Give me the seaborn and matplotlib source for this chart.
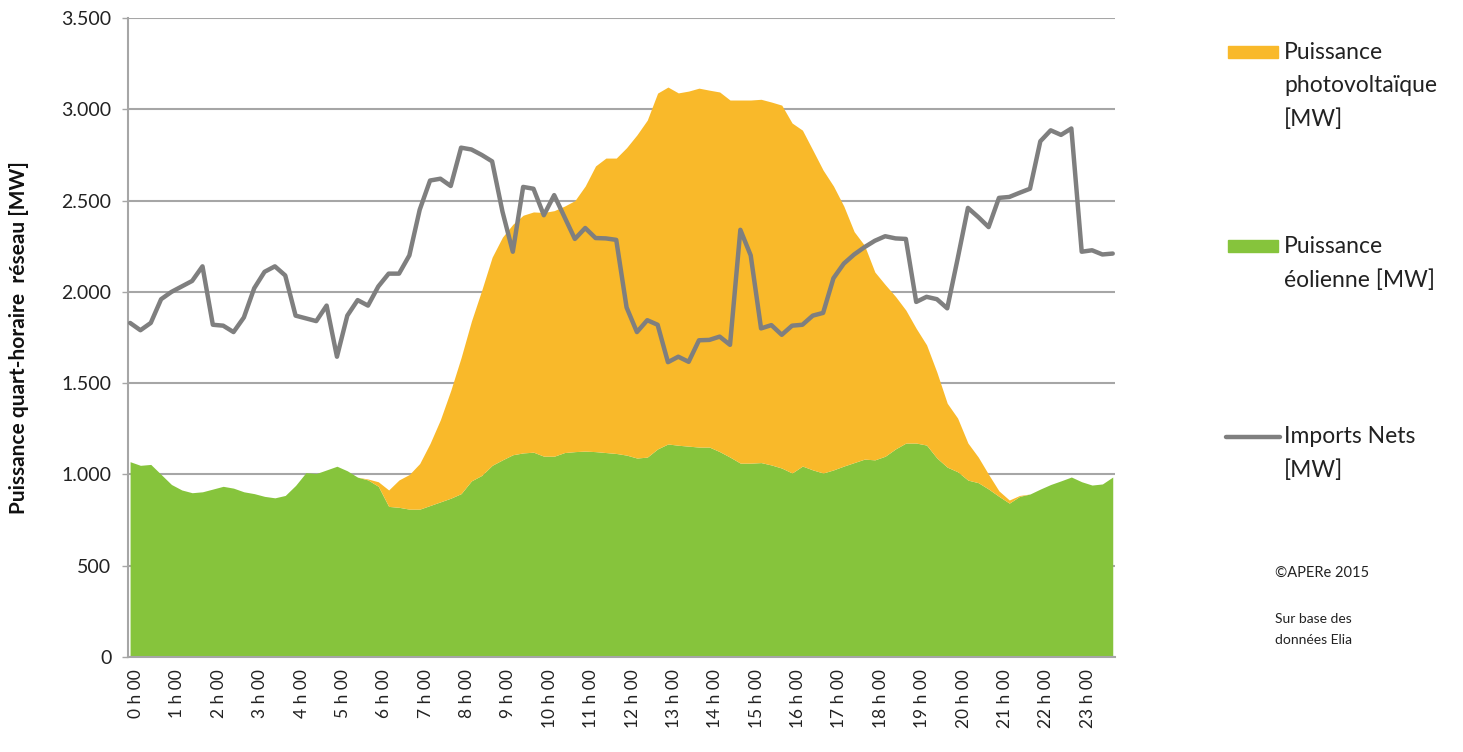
import matplotlib
matplotlib.use("Agg")
import matplotlib.pyplot as plt
import matplotlib.transforms as mtransforms
from matplotlib.patches import Rectangle
from matplotlib.lines import Line2D
from matplotlib.ticker import FuncFormatter, MultipleLocator
import numpy as np
import pandas as pd
import seaborn as sns

# quarts d'heure 0 h 00 -> 23 h 45
quart = list(range(96))
heures = [f"{h} h 00" for h in range(24)]

eolien = [
    1070, 1050, 1055, 1000, 945, 915, 900, 905, 920, 935, 925, 905,
    895, 880, 872, 885, 940, 1010, 1005, 1025, 1045, 1020, 985, 970,
    935, 825, 820, 810, 810, 830, 850, 870, 895, 965, 995, 1050,
    1080, 1108, 1118, 1122, 1100, 1100, 1120, 1125, 1128, 1125, 1120, 1115,
    1106, 1090, 1095, 1140, 1167, 1160, 1155, 1150, 1150, 1125, 1095, 1062,
    1062, 1065, 1052, 1035, 1008, 1046, 1025, 1008, 1025, 1046, 1065, 1084,
    1080, 1100, 1140, 1172, 1172, 1161, 1090, 1040, 1015, 969, 955, 920,
    880, 843, 880, 893, 920, 945, 965, 986, 960, 942, 948, 986,
]

photovoltaique = [
    0, 0, 0, 0, 0, 0, 0, 0, 0, 0, 0, 0,
    0, 0, 0, 0, 0, 0, 0, 0, 0, 0, 0, 5,
    25, 90, 150, 190, 250, 340, 450, 590, 745, 875, 1015, 1140,
    1220, 1262, 1302, 1316, 1335, 1345, 1350, 1375, 1452, 1565, 1613, 1618,
    1684, 1770, 1846, 1949, 1955, 1930, 1945, 1966, 1955, 1970, 1956, 1989,
    1989, 1990, 1988, 1988, 1917, 1840, 1752, 1659, 1555, 1424, 1265, 1171,
    1029, 940, 835, 728, 628, 549, 470, 350, 294, 203, 140, 80,
    30, 17, 5, 0, 0, 0, 0, 0, 0, 0, 0, 0,
]

imports_nets = [
    1830, 1790, 1830, 1960, 2000, 2030, 2060, 2140, 1820, 1815, 1780, 1860,
    2020, 2110, 2140, 2090, 1870, 1855, 1840, 1925, 1645, 1870, 1955, 1925,
    2030, 2100, 2100, 2200, 2450, 2610, 2620, 2580, 2790, 2780, 2750, 2715,
    2440, 2220, 2575, 2565, 2420, 2530, 2410, 2290, 2350, 2295, 2293, 2285,
    1915, 1780, 1845, 1820, 1615, 1645, 1617, 1735, 1737, 1755, 1710, 2340,
    2200, 1800, 1818, 1765, 1815, 1820, 1870, 1885, 2075, 2155, 2205, 2245,
    2280, 2305, 2293, 2290, 1945, 1973, 1960, 1910, 2180, 2460, 2410, 2355,
    2515, 2520, 2543, 2565, 2825, 2885, 2860, 2895, 2220, 2228, 2205, 2210,
]

ORANGE = "#F9B92A"
VERT = "#86C43C"
GRIS = "#7F7F7F"

df = pd.DataFrame({"quart": quart, "imports": imports_nets})

sns.set_theme(style="white")
plt.rcParams["font.family"] = ["Lato", "DejaVu Sans"]

fig = plt.figure(figsize=(14.63, 7.52), dpi=100)
ax = fig.add_axes([0.0875, 0.1263, 0.6745, 0.8497])

ax.stackplot(quart, eolien, photovoltaique, colors=[VERT, ORANGE], linewidth=0, zorder=2)
sns.lineplot(data=df, x="quart", y="imports", color=GRIS, linewidth=3.2, ax=ax, zorder=3)

ax.set_xlim(-0.2, 95.2)
ax.set_ylim(0, 3500)
ax.yaxis.set_major_locator(MultipleLocator(500))
ax.yaxis.set_major_formatter(FuncFormatter(lambda v, p: f"{int(v):,}".replace(",", ".")))
ax.grid(axis="y", color="#A6A6A6", linewidth=1.5, zorder=0)
ax.set_axisbelow(True)

ax.set_xticks(quart[::4])
ax.set_xticklabels(heures, rotation=90)
ax.set_xticks(quart, minor=True)
ax.tick_params(axis="x", which="major", length=0, pad=9, labelsize=12.5, colors="#222222")
ax.tick_params(axis="x", which="minor", direction="in", length=5, width=1, color="#8C8C8C")
ax.tick_params(axis="y", which="major", length=4, width=1, color="#A6A6A6", pad=8,
               labelsize=14, labelcolor="#222222", left=True)
offset = mtransforms.ScaledTranslation(6 / 100, 0, fig.dpi_scale_trans)
for lab in ax.get_xticklabels():
    lab.set_transform(lab.get_transform() + offset)

for s in ["top", "right"]:
    ax.spines[s].set_visible(False)
for s in ["left", "bottom"]:
    ax.spines[s].set_color("#A6A6A6")
    ax.spines[s].set_linewidth(1.5)

ax.set_xlabel("")
ax.set_ylabel("Puissance quart-horaire  réseau [MW]", fontsize=15, fontweight="bold",
              color="#111111")
ax.yaxis.set_label_coords(-0.1, 0.5)

# légende à droite
W, H = 1463, 752


def fx(px):
    return px / W


def fy(py):
    return 1 - py / H


fig.add_artist(Rectangle((fx(1228), fy(58)), fx(50), 12 / H, color=ORANGE, transform=fig.transFigure))
fig.text(fx(1284), fy(42), "Puissance\nphotovoltaïque\n[MW]", fontsize=16.5, va="top", ha="left",
         color="#222222", linespacing=1.7)
fig.add_artist(Rectangle((fx(1228), fy(252)), fx(50), 12 / H, color=VERT, transform=fig.transFigure))
fig.text(fx(1284), fy(236), "Puissance\néolienne [MW]", fontsize=16.5, va="top", ha="left",
         color="#222222", linespacing=1.7)
fig.add_artist(Line2D([fx(1226), fx(1280)], [fy(437), fy(437)], color=GRIS, linewidth=3.2,
                      transform=fig.transFigure))
fig.text(fx(1284), fy(426), "Imports Nets\n[MW]", fontsize=16.5, va="top", ha="left",
         color="#222222", linespacing=1.7)

fig.text(fx(1275), fy(573), "©APERe 2015", fontsize=10.5, va="center", ha="left", color="#222222")
fig.text(fx(1275), fy(613), "Sur base des\ndonnées Elia", fontsize=10, va="top", ha="left",
         color="#222222", linespacing=1.9)

fig.savefig("out.png", dpi=100)
